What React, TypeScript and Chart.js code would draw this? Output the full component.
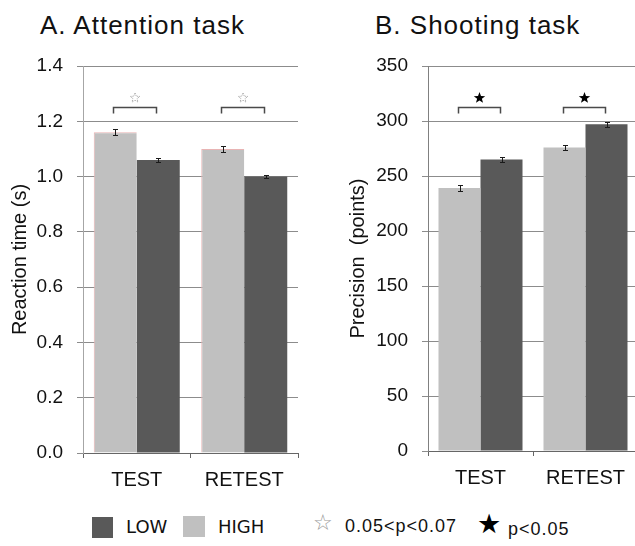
import React, { useEffect, useRef } from 'react';
import { Chart, registerables } from 'chart.js';

Chart.register(...registerables);

// ---- data ----
const categories = ['TEST', 'RETEST'];

const attentionHigh = [1.16, 1.1];
const attentionLow = [1.06, 1.0];
const attentionHighErr = [0.011, 0.01];
const attentionLowErr = [0.008, 0.005];
const attentionTicks = [0, 0.2, 0.4, 0.6, 0.8, 1.0, 1.2, 1.4];
const attentionSig = ['marginal', 'marginal'];
const attentionBracketAt = 1.25;

const shootingHigh = [239, 276];
const shootingLow = [265, 297];
const shootingHighErr = [3, 2];
const shootingLowErr = [2.5, 2];
const shootingTicks = [0, 50, 100, 150, 200, 250, 300, 350];
const shootingSig = ['significant', 'significant'];
const shootingBracketAt = 313;

const panelTitles = ['A. Attention task', 'B. Shooting task'];
const yTitles = ['Reaction time (s)', 'Precision  (points)'];
const groupLabels = ['LOW', 'HIGH'];
const sigLabels = ['0.05<p<0.07', 'p<0.05'];

const HIGH_COLOR = '#c0c0c0';
const LOW_COLOR = '#595959';
const FONT = "'Liberation Sans', Arial, sans-serif";

function starPath(ctx: CanvasRenderingContext2D, cx: number, cy: number, ro: number, ri: number) {
  ctx.beginPath();
  for (let k = 0; k < 10; k++) {
    const r = k % 2 === 0 ? ro : ri;
    const a = -Math.PI / 2 + (k * Math.PI) / 5;
    const x = cx + r * Math.cos(a);
    const y = cy + r * Math.sin(a);
    if (k === 0) ctx.moveTo(x, y);
    else ctx.lineTo(x, y);
  }
  ctx.closePath();
}

const annotPlugin = {
  id: 'annot',
  afterDatasetsDraw(chart: any, _args: any, opts: any) {
    const { ctx } = chart;
    const yScale = chart.scales.y;
    ctx.save();
    // error bars
    ctx.strokeStyle = '#1a1a1a';
    ctx.lineWidth = 1;
    opts.errors.forEach((errs: number[], di: number) => {
      const meta = chart.getDatasetMeta(di);
      const data = chart.data.datasets[di].data as number[];
      meta.data.forEach((bar: any, i: number) => {
        const v = data[i];
        const yt = Math.round(yScale.getPixelForValue(v + errs[i])) + 0.5;
        const yb = Math.round(yScale.getPixelForValue(v - errs[i])) + 0.5;
        const x = Math.round(bar.x) + 0.5;
        ctx.beginPath();
        ctx.moveTo(x, yt);
        ctx.lineTo(x, yb);
        ctx.moveTo(x - 2.5, yt);
        ctx.lineTo(x + 2.5, yt);
        ctx.moveTo(x - 2.5, yb);
        ctx.lineTo(x + 2.5, yb);
        ctx.stroke();
      });
    });
    // significance brackets
    const m0 = chart.getDatasetMeta(0);
    const m1 = chart.getDatasetMeta(1);
    const by = Math.round(yScale.getPixelForValue(opts.bracketAt)) + 0.5;
    opts.sig.forEach((s: string, i: number) => {
      const x1 = Math.round(m0.data[i].x) - 1.5;
      const x2 = Math.round(m1.data[i].x) - 1.5;
      ctx.strokeStyle = '#4a4a4a';
      ctx.lineWidth = 1.5;
      ctx.setLineDash([]);
      ctx.beginPath();
      ctx.moveTo(x1, by + 6);
      ctx.lineTo(x1, by);
      ctx.lineTo(x2, by);
      ctx.lineTo(x2, by + 6);
      ctx.stroke();
      const cx = (x1 + x2) / 2;
      const cy = by - 10;
      if (s === 'significant') {
        starPath(ctx, cx, cy + 0.5, 6, 2.5);
        ctx.fillStyle = '#000';
        ctx.fill();
      } else {
        starPath(ctx, cx, cy + 0.5, 5, 2.2);
        ctx.strokeStyle = '#8a8a8a';
        ctx.lineWidth = 0.8;
        ctx.setLineDash([1, 1]);
        ctx.stroke();
        ctx.setLineDash([]);
      }
    });
    ctx.restore();
  },
};

type PanelProps = {
  left: number;
  width: number;
  height: number;
  bottom: number;
  high: number[];
  low: number[];
  highErr: number[];
  lowErr: number[];
  ticks: number[];
  decimals: number;
  yTitle: string;
  titlePad: number;
  sig: string[];
  bracketAt: number;
  yWidth: number;
  padRight: number;
  yBorder: string;
  highBorder?: string;
};

function BarPanel(p: PanelProps) {
  const ref = useRef<HTMLCanvasElement>(null);
  useEffect(() => {
    if (!ref.current) return;
    const chart = new Chart(ref.current, {
      type: 'bar',
      data: {
        labels: categories,
        datasets: [
          {
            label: 'HIGH',
            data: p.high,
            backgroundColor: HIGH_COLOR,
            borderColor: p.highBorder || HIGH_COLOR,
            borderWidth: p.highBorder ? { left: 1, top: 1, right: 0, bottom: 0 } : 0,
            categoryPercentage: 0.8,
            barPercentage: 1.0,
          },
          {
            label: 'LOW',
            data: p.low,
            backgroundColor: LOW_COLOR,
            borderWidth: 0,
            categoryPercentage: 0.8,
            barPercentage: 1.0,
          },
        ],
      },
      options: {
        responsive: false,
        animation: false,
        devicePixelRatio: 1,
        layout: { padding: { top: 66, right: p.padRight, left: 0, bottom: 0 } },
        plugins: {
          legend: { display: false },
          tooltip: { enabled: false },
          // @ts-ignore
          annot: {
            errors: [p.highErr, p.lowErr],
            sig: p.sig,
            bracketAt: p.bracketAt,
          },
        },
        scales: {
          x: {
            grid: {
              offset: true,
              drawOnChartArea: false,
              drawTicks: true,
              tickLength: 5,
              color: '#666',
            },
            border: { color: '#666', width: 1 },
            ticks: { font: { family: FONT, size: 20 }, color: '#111', padding: 10 },
            afterFit: (s: any) => {
              s.height = p.height - p.bottom;
            },
          },
          y: {
            min: p.ticks[0],
            max: p.ticks[p.ticks.length - 1],
            afterBuildTicks: (s: any) => {
              s.ticks = p.ticks.map((v) => ({ value: v }));
            },
            grid: { color: '#8c8c8c', tickLength: 6, lineWidth: 1 },
            border: { color: p.yBorder, width: 1 },
            ticks: {
              font: { family: FONT, size: 19 },
              color: '#111',
              padding: 14,
              callback: (v: any) => Number(v).toFixed(p.decimals),
            },
            title: {
              display: true,
              text: p.yTitle,
              font: { family: FONT, size: 20 },
              color: '#111',
              padding: { top: p.titlePad, bottom: 0 },
            },
            afterFit: (s: any) => {
              s.width = p.yWidth;
            },
          },
        },
      },
      plugins: [annotPlugin as any],
    });
    return () => chart.destroy();
  }, []);
  return (
    <canvas
      ref={ref}
      width={p.width}
      height={p.height}
      style={{ position: 'absolute', left: p.left, top: 0, width: p.width, height: p.height }}
    />
  );
}

const titleStyle: React.CSSProperties = {
  position: 'absolute',
  top: 10,
  fontFamily: FONT,
  fontSize: 26,
  letterSpacing: 1,
  color: '#111',
  whiteSpace: 'nowrap',
  lineHeight: 'normal',
};

export default function App() {
  return (
    <div
      style={{
        position: 'absolute',
        left: 0,
        top: 0,
        width: 635,
        height: 546,
        overflow: 'hidden',
        background: '#fff',
      }}
    >
      <div style={{ ...titleStyle, left: 40 }}>{panelTitles[0]}</div>
      <div style={{ ...titleStyle, left: 375 }}>{panelTitles[1]}</div>
      <BarPanel
        left={0}
        width={310}
        height={500}
        bottom={453}
        high={attentionHigh}
        low={attentionLow}
        highErr={attentionHighErr}
        lowErr={attentionLowErr}
        ticks={attentionTicks}
        decimals={1}
        yTitle={yTitles[0]}
        titlePad={8}
        sig={attentionSig}
        bracketAt={attentionBracketAt}
        yWidth={83}
        padRight={12}
        yBorder="#a6a6a6"
        highBorder="#e8b4b4"
      />
      <BarPanel
        left={340}
        width={300}
        height={500}
        bottom={451}
        high={shootingHigh}
        low={shootingLow}
        highErr={shootingHighErr}
        lowErr={shootingLowErr}
        ticks={shootingTicks}
        decimals={0}
        yTitle={yTitles[1]}
        titlePad={6}
        sig={shootingSig}
        bracketAt={shootingBracketAt}
        yWidth={88}
        padRight={2}
        yBorder="#808080"
      />
      {/* legend */}
      <div style={{ position: 'absolute', left: 92, top: 517, width: 21, height: 21, background: LOW_COLOR }} />
      <div
        style={{
          position: 'absolute',
          left: 126,
          top: 516,
          fontFamily: "'DejaVu Sans', sans-serif",
          fontSize: 18,
          color: '#111',
          lineHeight: '22px',
        }}
      >
        {groupLabels[0]}
      </div>
      <div style={{ position: 'absolute', left: 183, top: 516, width: 22, height: 21, background: HIGH_COLOR }} />
      <div
        style={{
          position: 'absolute',
          left: 218,
          top: 516,
          fontFamily: "'DejaVu Sans', sans-serif",
          fontSize: 18,
          color: '#111',
          lineHeight: '22px',
        }}
      >
        {groupLabels[1]}
      </div>
      <div
        style={{
          position: 'absolute',
          left: 313,
          top: 510,
          fontFamily: "'DejaVu Sans', sans-serif",
          fontSize: 22,
          color: '#9a9a9a',
          lineHeight: '26px',
        }}
      >
        ☆
      </div>
      <div
        style={{
          position: 'absolute',
          left: 345,
          top: 515,
          fontFamily: FONT,
          fontSize: 18,
          letterSpacing: 1,
          color: '#111',
          lineHeight: '22px',
          whiteSpace: 'nowrap',
        }}
      >
        {sigLabels[0]}
      </div>
      <div
        style={{
          position: 'absolute',
          left: 477,
          top: 509,
          fontFamily: "'DejaVu Sans', sans-serif",
          fontSize: 27,
          color: '#000',
          lineHeight: '30px',
        }}
      >
        ★
      </div>
      <div
        style={{
          position: 'absolute',
          left: 508,
          top: 518,
          fontFamily: FONT,
          fontSize: 18,
          letterSpacing: 1,
          color: '#111',
          lineHeight: '22px',
          whiteSpace: 'nowrap',
        }}
      >
        {sigLabels[1]}
      </div>
    </div>
  );
}
